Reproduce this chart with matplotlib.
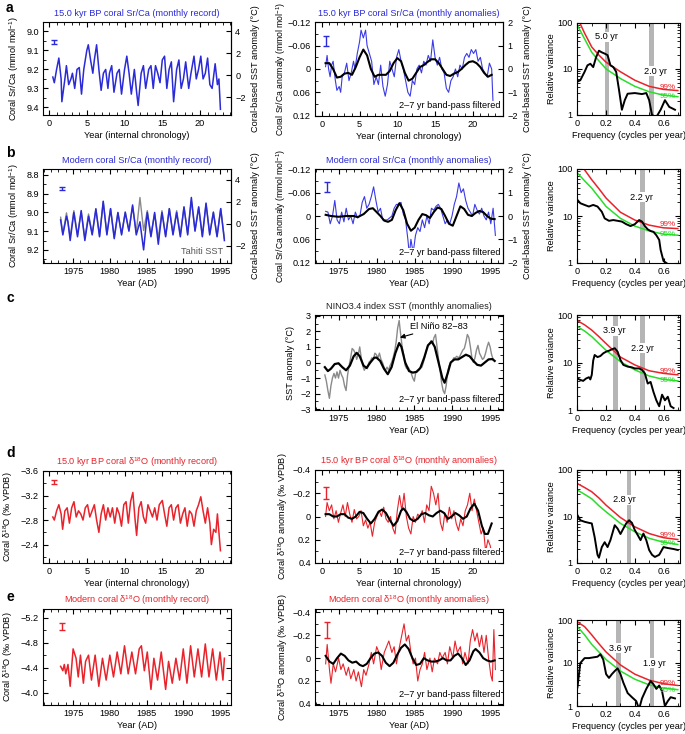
import matplotlib
matplotlib.use("Agg")
import matplotlib.pyplot as plt
from matplotlib.ticker import MultipleLocator, FixedLocator, NullFormatter, FuncFormatter

plt.rcParams['font.family'] = ['Liberation Sans', 'DejaVu Sans']
FS = 6.6
plt.rcParams['font.size'] = FS
plt.rcParams['axes.linewidth'] = 0.8
plt.rcParams['mathtext.default'] = 'regular'

BLUE = '#2a2ad8'
BLUE_L = '#3a3ae6'
RED = '#e8232b'
GREEN = '#2add2a'
GREY = '#8a8a8a'
BAND = '#b5b5b5'

# ---------------- data: panel a ----------------
a_rec_t = [0.5,0.7,1.0,1.3,1.6,1.7,2.1,2.3,2.6,2.9,3.1,3.4,3.7,4.0,4.3,4.6,5.0,5.2,5.5,5.8,6.0,6.3,6.6,6.9,7.2,7.5,7.8,8.0,8.3,8.6,9.0,9.3,9.6,10.0,10.3,10.6,10.9,11.3,11.6,11.8,12.2,12.5,12.8,13.2,13.5,13.8,14.1,14.4,14.7,15.0,15.3,15.6,15.9,16.2,16.5,16.9,17.2,17.5,17.8,18.1,18.5,18.8,19.2,19.5,19.8,20.1,20.4,20.7,21.0,21.3,21.6,22.0,22.3,22.5,22.7]
a_rec_v = [9.24,9.27,9.20,9.14,9.25,9.37,9.25,9.18,9.28,9.25,9.22,9.30,9.20,9.19,9.33,9.20,9.10,9.07,9.15,9.22,9.15,9.07,9.20,9.31,9.22,9.20,9.30,9.22,9.18,9.32,9.22,9.20,9.33,9.20,9.13,9.22,9.33,9.20,9.32,9.39,9.22,9.18,9.30,9.20,9.18,9.30,9.18,9.22,9.27,9.15,9.13,9.30,9.20,9.16,9.37,9.20,9.15,9.30,9.25,9.16,9.30,9.22,9.13,9.25,9.20,9.13,9.25,9.22,9.14,9.28,9.30,9.17,9.28,9.25,9.41]
a_anom_t = [0.5,0.7,0.9,1.1,1.3,1.5,1.8,2.0,2.3,2.5,2.7,3.0,3.3,3.6,3.9,4.2,4.4,4.7,5.0,5.2,5.5,5.8,6.0,6.3,6.6,6.9,7.2,7.5,7.8,8.1,8.4,8.7,9.0,9.3,9.6,9.9,10.2,10.5,10.8,11.1,11.4,11.7,12.0,12.3,12.6,12.9,13.2,13.5,13.8,14.1,14.4,14.7,15.0,15.3,15.6,15.9,16.2,16.5,16.8,17.1,17.4,17.7,18.0,18.3,18.6,18.9,19.2,19.5,19.8,20.1,20.4,20.7,21.0,21.3,21.6,21.9,22.2,22.5,22.7]
a_anom_v = [-0.006,-0.035,0.0,0.02,-0.01,-0.02,0.03,0.055,0.045,0.06,0.02,0.01,-0.015,0.03,0.01,-0.02,0.0,-0.04,-0.07,-0.10,-0.08,-0.10,-0.06,-0.04,-0.02,0.04,0.02,0.04,-0.01,0.045,0.07,0.04,-0.02,0.0,0.02,-0.03,-0.05,-0.02,0.0,0.03,0.06,0.07,0.03,0.04,0.0,-0.01,0.01,-0.02,-0.01,-0.035,-0.02,-0.075,-0.03,-0.01,-0.03,0.0,0.01,0.05,0.06,0.03,0.02,0.0,0.02,-0.01,0.0,-0.03,-0.04,-0.03,-0.05,-0.04,-0.05,-0.02,-0.03,0.0,0.01,0.02,-0.015,0.0,0.097]
a_filt_t = [0.5,1.0,1.5,2.0,2.5,3.0,3.5,4.0,4.5,5.0,5.5,6.0,6.5,7.0,7.5,8.0,8.5,9.0,9.5,10.0,10.5,11.0,11.5,12.0,12.5,13.0,13.5,14.0,14.5,15.0,15.5,16.0,16.5,17.0,17.5,18.0,18.5,19.0,19.5,20.0,20.5,21.0,21.5,22.0,22.5]
a_filt_v = [-0.015,-0.015,0.0,0.022,0.02,0.012,0.01,0.015,-0.005,-0.03,-0.05,-0.035,0.0,0.02,0.015,0.015,0.015,0.005,-0.015,-0.028,-0.02,0.01,0.03,0.025,0.01,-0.005,-0.01,-0.018,-0.025,-0.025,-0.015,0.0,0.015,0.018,0.012,0.008,0.0,-0.01,-0.018,-0.02,-0.015,-0.005,0.01,0.02,0.015]
a_freq = [0.0,0.02,0.05,0.07,0.09,0.11,0.13,0.15,0.17,0.19,0.21,0.23,0.25,0.27,0.29,0.31,0.33,0.35,0.40,0.45,0.48,0.50,0.52,0.55,0.58,0.61,0.64,0.68]
a_spec = [5.3,5.7,8.7,12,13,11,18,25,23,21.6,20,12,11,8.7,3.5,1.3,2.1,2.9,3.0,2.85,3.0,2.1,1.0,0.9,1.3,2.1,1.5,1.3]
sig_freq = [0.0,0.05,0.1,0.15,0.2,0.3,0.4,0.5,0.6,0.7]
a_sig99 = [130,60,30,20,14,8.7,5.7,4.2,3.6,3.4]
a_sig95 = [89,45,23,15,10,6.2,4.2,3.2,2.7,2.5]
a_bands = [0.205, 0.515]
a_band_labels = ['5.0 yr', '2.0 yr']

# ---------------- data: panel b ----------------
b_rec_t = [1973.3,1973.6,1974.1,1974.3,1974.6,1975.1,1975.6,1976.1,1976.6,1977.1,1977.6,1978.1,1978.6,1979.1,1979.6,1980.1,1980.6,1981.1,1981.6,1982.1,1982.6,1983.1,1983.6,1984.1,1984.6,1985.1,1985.6,1986.1,1986.6,1987.1,1987.6,1988.1,1988.6,1989.1,1989.6,1990.1,1990.6,1991.1,1991.6,1992.1,1992.6,1993.1,1993.6,1994.1,1994.6,1995.1,1995.6]
b_rec_v = [9.04,9.12,9.02,9.05,9.15,9.00,9.13,8.99,9.15,9.02,9.12,8.98,9.13,8.94,9.12,8.98,9.14,9.00,9.12,9.00,9.10,8.96,9.12,9.05,9.20,9.00,9.13,9.00,9.17,9.00,9.13,8.98,9.12,9.00,9.13,8.97,9.12,8.92,9.10,8.97,9.13,8.95,9.12,9.00,9.13,8.98,9.15]
b_tahiti_t = [1973.3,1973.6,1974.1,1974.6,1975.1,1975.6,1976.1,1976.6,1977.1,1977.6,1978.1,1978.6,1979.1,1979.6,1980.1,1980.6,1981.1,1981.6,1982.1,1982.6,1983.1,1983.6,1984.1,1984.6,1985.1,1985.6,1986.1,1986.6,1987.1,1987.6,1988.1,1988.6,1989.1,1989.6,1990.1,1990.6,1991.1,1991.6,1992.1,1992.6,1993.1,1993.6,1994.1,1994.6,1995.1,1995.6]
b_tahiti_sst = [0.6,-0.9,1.0,-1.2,1.2,-1.0,1.1,-1.3,0.9,-0.9,1.3,-1.1,2.0,-0.9,1.4,-1.2,1.0,-0.9,1.1,-0.6,1.6,-0.8,2.4,-0.6,1.2,-1.0,0.9,-1.3,1.2,-1.1,1.4,-0.9,1.2,-1.0,1.5,-0.9,2.1,-0.6,1.5,-1.1,1.8,-0.9,1.1,-1.1,1.4,-1.3]
b_anom_t = [1973.3,1973.6,1973.9,1974.2,1974.5,1974.8,1975.1,1975.4,1975.7,1976.0,1976.3,1976.6,1976.9,1977.2,1977.5,1977.8,1978.1,1978.4,1978.7,1979.0,1979.3,1979.6,1979.9,1980.2,1980.5,1980.8,1981.1,1981.4,1981.7,1982.0,1982.3,1982.6,1982.9,1983.2,1983.5,1983.8,1984.1,1984.3,1984.5,1984.8,1985.1,1985.4,1985.7,1986.0,1986.3,1986.6,1986.9,1987.2,1987.5,1987.8,1988.1,1988.4,1988.7,1989.0,1989.3,1989.6,1989.9,1990.2,1990.5,1990.8,1991.1,1991.4,1991.7,1992.0,1992.3,1992.6,1992.9,1993.2,1993.5,1993.8,1994.1,1994.4,1994.7,1995.0,1995.3,1995.6]
b_anom_v = [-0.012,-0.01,0.02,0.0,-0.04,0.01,0.02,-0.01,0.015,-0.02,0.01,0.0,0.02,-0.01,0.005,0.0,-0.035,-0.05,-0.02,-0.03,-0.05,-0.075,-0.04,-0.01,-0.02,0.01,0.01,0.01,0.005,0.0,-0.02,-0.03,-0.03,-0.035,-0.005,0.01,0.06,0.10,0.06,0.095,0.05,0.03,0.04,0.01,0.03,0.0,0.02,-0.02,-0.015,-0.025,-0.03,-0.02,0.0,0.02,0.01,0.02,0.0,-0.03,-0.05,-0.085,-0.06,-0.07,-0.04,-0.02,-0.01,0.0,-0.03,-0.015,-0.005,-0.02,0.0,0.01,-0.01,0.02,-0.02,0.05]
b_filt_t = [1973.3,1974.0,1975.0,1976.0,1977.0,1977.5,1978.3,1979.0,1979.5,1980.0,1980.5,1981.0,1981.5,1982.0,1982.5,1983.0,1983.5,1984.0,1984.5,1985.0,1985.5,1986.0,1986.5,1987.0,1987.5,1988.0,1988.5,1989.0,1989.5,1990.0,1990.5,1991.0,1991.5,1992.0,1992.5,1993.0,1993.5,1994.0,1994.5,1995.0,1995.5]
b_filt_v = [-0.003,0.0,0.002,0.0,0.0,0.003,-0.005,-0.018,-0.02,-0.01,0.0,0.012,0.015,0.01,-0.015,-0.033,-0.015,0.02,0.038,0.03,0.01,-0.005,-0.002,0.005,-0.01,-0.022,-0.018,0.0,0.02,0.025,0.0,-0.025,-0.018,-0.003,0.0,-0.008,-0.013,-0.01,0.0,0.007,0.008]
b_freq = [0.0,0.02,0.05,0.08,0.11,0.14,0.17,0.19,0.22,0.25,0.28,0.31,0.34,0.37,0.40,0.43,0.45,0.47,0.49,0.51,0.53,0.55,0.57,0.58,0.60,0.62]
b_spec = [22,18.7,17.2,15.9,17.2,15.9,12.3,8.9,7.9,8.2,7.9,7.6,6.7,6.1,6.7,8.2,7.6,6.1,5.2,4.8,4.6,3.9,3.1,1.9,1.1,1.0]
b_sig99 = [145,96,59,38,24,12,8.2,6.4,5.6,5.4]
b_sig95 = [82,56,39,25,15.9,8.9,6.1,4.8,4.1,3.9]
b_bands = [0.452]
b_band_labels = ['2.2 yr']

# ---------------- data: panel c ----------------
c_sst_t = [1973.2,1973.4,1973.6,1973.8,1974.0,1974.2,1974.4,1974.6,1974.8,1975.0,1975.2,1975.4,1975.6,1975.8,1976.0,1976.2,1976.4,1976.6,1976.8,1977.0,1977.2,1977.4,1977.6,1977.8,1978.0,1978.2,1978.4,1978.6,1978.8,1979.0,1979.2,1979.4,1979.6,1979.8,1980.0,1980.2,1980.4,1980.6,1980.8,1981.0,1981.2,1981.4,1981.6,1981.8,1982.0,1982.2,1982.4,1982.6,1982.8,1983.0,1983.2,1983.4,1983.6,1983.8,1984.0,1984.2,1984.4,1984.6,1984.8,1985.0,1985.2,1985.4,1985.6,1985.8,1986.0,1986.2,1986.4,1986.6,1986.8,1987.0,1987.2,1987.4,1987.6,1987.8,1988.0,1988.2,1988.4,1988.6,1988.8,1989.0,1989.2,1989.4,1989.6,1989.8,1990.0,1990.2,1990.4,1990.6,1990.8,1991.0,1991.2,1991.4,1991.6,1991.8,1992.0,1992.2,1992.4,1992.6,1992.8,1993.0,1993.2,1993.4,1993.6,1993.8,1994.0,1994.2,1994.4,1994.6,1994.8,1995.0,1995.2,1995.4]
c_sst_v = [-0.8,-1.2,-1.8,-2.3,-1.5,-1.0,-0.7,-1.0,-0.6,-1.0,-0.5,-0.8,-1.0,-1.5,-1.8,-0.8,-0.2,0.3,0.9,0.8,0.6,0.2,0.5,1.0,0.3,-0.2,-0.5,-0.3,-0.4,0.0,0.1,0.3,0.2,0.6,0.5,0.3,0.6,0.2,0.0,-0.3,-0.5,-0.3,-0.5,-0.2,0.0,0.3,0.7,1.3,2.2,2.7,1.8,1.0,0.5,-0.2,-0.4,-0.3,-0.5,-0.7,-1.0,-1.2,-0.6,-0.5,-0.5,-0.3,-0.3,0.0,0.4,0.8,1.1,1.2,1.4,1.2,1.6,1.8,1.0,0.2,-0.5,-1.3,-1.8,-2.0,-1.5,-0.6,-0.2,0.0,0.1,0.3,0.3,0.4,0.3,0.4,0.6,0.8,0.9,1.3,1.8,1.6,1.0,0.3,0.0,0.3,0.8,1.1,0.6,0.4,0.2,0.3,0.6,1.0,1.3,1.0,0.5,0.2]
c_filt_t = [1973.2,1973.6,1974.0,1974.5,1975.0,1975.5,1976.0,1976.5,1977.0,1977.4,1977.8,1978.3,1978.7,1979.2,1979.7,1980.0,1980.5,1981.0,1981.5,1982.0,1982.5,1983.0,1983.3,1983.8,1984.3,1984.8,1985.3,1985.8,1986.3,1986.8,1987.3,1987.7,1988.2,1988.7,1989.0,1989.4,1989.8,1990.3,1990.8,1991.3,1991.8,1992.3,1992.8,1993.3,1993.8,1994.3,1994.8,1995.3,1995.6]
c_filt_v = [-0.3,-0.55,-0.4,-0.1,-0.05,-0.3,-0.5,-0.2,0.4,0.62,0.4,-0.2,-0.35,0.0,0.3,0.32,0.1,-0.4,-0.75,-0.3,0.6,1.25,1.0,0.0,-0.55,-0.65,-0.6,-0.35,0.3,1.1,1.35,1.0,0.0,-1.0,-1.3,-0.7,0.0,0.2,0.2,0.35,0.5,0.4,0.1,-0.15,-0.2,0.0,0.2,0.22,0.1]
c_freq = [0.0,0.02,0.04,0.06,0.08,0.09,0.10,0.11,0.12,0.14,0.16,0.18,0.20,0.22,0.24,0.26,0.28,0.30,0.32,0.35,0.38,0.40,0.43,0.45,0.47,0.49,0.51,0.53,0.55,0.57,0.59,0.61,0.63,0.65,0.67]
c_spec = [4.6,4.3,4.1,4.6,4.9,4.4,5.5,11,14.4,13,13.7,15.6,16.9,17.7,18.9,20,16.9,11.3,8.9,8.2,7.9,7.5,7.5,7.0,5.9,3.6,3.9,2.4,1.6,1.2,2.1,1.6,1.9,1.2,1.1]
c_sig99 = [76,62,48,35,25,13,8.9,6.7,5.9,5.5]
c_sig95 = [57,46,35,25,18,10.4,7.0,5.2,4.4,4.1]
c_bands = [0.265, 0.455]
c_band_labels = ['3.9 yr', '2.2 yr']

# ---------------- data: panel d ----------------
d_rec_t = [0.5,0.7,1.0,1.3,1.6,1.8,2.1,2.4,2.7,3.0,3.3,3.6,3.9,4.2,4.5,4.8,5.1,5.4,5.7,6.0,6.3,6.6,6.9,7.2,7.5,7.8,8.1,8.4,8.7,9.0,9.3,9.6,9.9,10.2,10.5,10.8,11.1,11.4,11.6,11.9,12.2,12.5,12.8,13.1,13.4,13.7,14.0,14.3,14.6,15.0,15.3,15.6,15.9,16.2,16.5,16.8,17.1,17.4,17.7,18.0,18.3,18.6,18.9,19.2,19.5,19.8,20.1,20.4,20.7,21.0,21.3,21.5,21.8,22.1,22.3,22.5,22.7]
d_rec_v = [-2.85,-2.80,-2.95,-3.05,-2.90,-2.65,-2.95,-3.00,-2.75,-3.00,-3.10,-2.85,-2.95,-2.90,-2.80,-3.00,-3.05,-2.85,-2.95,-3.05,-2.80,-2.60,-2.90,-3.05,-2.80,-3.00,-2.85,-3.00,-2.75,-3.00,-2.90,-2.70,-3.05,-3.10,-2.75,-3.10,-3.25,-2.80,-2.55,-3.00,-3.10,-2.85,-2.75,-3.05,-2.95,-2.85,-3.00,-2.80,-3.05,-3.12,-2.90,-2.70,-3.00,-3.05,-2.80,-3.00,-3.05,-2.75,-2.90,-3.00,-2.70,-2.95,-2.90,-2.70,-2.95,-3.05,-3.18,-2.95,-2.75,-3.00,-2.75,-2.40,-2.65,-2.60,-2.90,-2.60,-2.30]
d_anom_t = [0.5,0.7,1.0,1.3,1.6,1.9,2.2,2.5,2.8,3.1,3.4,3.7,4.0,4.3,4.6,4.9,5.2,5.5,5.8,6.1,6.4,6.7,7.0,7.3,7.6,7.9,8.2,8.5,8.8,9.1,9.4,9.7,10.0,10.3,10.6,10.9,11.2,11.5,11.8,12.1,12.4,12.7,13.0,13.3,13.6,13.9,14.2,14.5,14.8,15.1,15.4,15.7,16.0,16.3,16.6,16.9,17.2,17.5,17.8,18.1,18.4,18.7,19.0,19.3,19.6,19.9,20.2,20.5,20.8,21.1,21.4,21.7,22.0,22.3,22.6]
d_anom_v = [0.0,-0.12,-0.05,-0.10,0.02,-0.05,0.05,-0.03,-0.10,0.0,-0.12,-0.02,0.05,-0.06,0.02,0.0,-0.05,0.08,0.03,0.10,0.05,0.17,0.05,0.0,-0.05,0.0,-0.08,0.02,0.05,0.0,0.10,0.15,-0.05,-0.18,-0.05,-0.20,0.0,0.10,0.15,0.0,0.05,-0.02,0.0,-0.05,0.05,-0.10,-0.05,-0.26,-0.20,-0.10,-0.20,0.05,0.12,-0.03,0.05,-0.08,0.02,-0.05,0.06,0.12,0.02,0.08,-0.05,-0.10,-0.20,-0.05,-0.15,-0.05,0.05,0.15,0.10,0.30,0.20,0.25,0.35]
d_filt_t = [0.5,1.0,1.5,2.0,2.5,3.0,3.5,4.0,4.5,5.0,5.5,6.0,6.5,7.0,7.5,8.0,8.5,9.0,9.5,10.0,10.5,10.8,11.2,11.7,12.2,12.7,13.2,13.7,14.2,14.7,15.2,15.7,16.2,16.7,17.2,17.7,18.2,18.7,19.2,19.7,20.2,20.7,21.2,21.6,22.0,22.5]
d_filt_v = [-0.02,-0.02,0.0,0.0,-0.02,-0.02,0.01,0.02,0.0,-0.04,-0.03,0.02,0.06,0.02,-0.04,-0.06,-0.03,0.03,0.08,0.04,-0.05,-0.07,-0.04,0.02,0.04,0.02,-0.02,-0.03,-0.01,0.0,-0.03,-0.05,-0.03,0.02,0.0,-0.03,-0.01,0.02,0.0,-0.07,-0.11,-0.05,0.08,0.15,0.15,0.06]
d_freq = [0.0,0.02,0.05,0.08,0.10,0.12,0.14,0.15,0.17,0.19,0.21,0.23,0.26,0.28,0.30,0.32,0.34,0.36,0.38,0.40,0.42,0.44,0.46,0.48,0.50,0.52,0.54,0.57,0.60,0.63,0.67,0.70]
d_spec = [10.7,8.3,7.7,7.3,7.1,3.6,1.5,1.3,2.2,2.8,2.2,3.1,6.5,5.5,4.2,5.5,7.1,8.3,7.3,5.1,4.0,3.1,4.3,3.1,1.9,1.5,1.35,1.5,2.2,2.1,2.0,1.9]
d_sig99 = [51,42,34,25,17.5,9.5,6.0,4.3,3.5,3.2]
d_sig95 = [37,30,24,17,12.6,7.1,4.7,3.4,2.8,2.5]
d_bands = [0.36]
d_band_labels = ['2.8 yr']

# ---------------- data: panel e ----------------
e_rec_t = [1973.3,1973.6,1973.8,1974.0,1974.3,1974.6,1975.0,1975.4,1975.7,1976.0,1976.4,1976.7,1977.1,1977.5,1978.0,1978.5,1979.0,1979.5,1980.0,1980.5,1981.0,1981.5,1982.0,1982.5,1983.0,1983.5,1984.0,1984.3,1984.7,1985.1,1985.6,1986.0,1986.5,1987.0,1987.6,1988.0,1988.5,1989.0,1989.5,1990.0,1990.5,1991.0,1991.5,1992.0,1992.5,1993.0,1993.5,1994.0,1994.5,1995.0,1995.4,1995.6]
e_rec_v = [-4.42,-4.35,-4.45,-4.30,-4.45,-4.10,-4.70,-4.55,-4.25,-4.60,-4.15,-4.50,-4.60,-4.20,-4.60,-4.10,-4.55,-4.20,-4.60,-4.25,-4.65,-4.30,-4.75,-4.30,-4.65,-4.30,-4.70,-4.75,-4.35,-4.65,-4.05,-4.55,-4.20,-4.65,-4.05,-4.50,-4.15,-4.55,-4.20,-4.70,-4.15,-4.75,-4.25,-4.70,-4.25,-4.78,-4.25,-4.70,-4.20,-4.65,-4.20,-4.55]
e_anom_t = [1973.3,1973.5,1973.8,1974.0,1974.3,1974.6,1975.0,1975.3,1975.6,1976.0,1976.3,1976.6,1977.0,1977.3,1977.6,1978.0,1978.3,1978.6,1979.0,1979.3,1979.6,1980.0,1980.3,1980.6,1981.0,1981.3,1981.6,1982.0,1982.3,1982.6,1983.0,1983.3,1983.6,1983.9,1984.2,1984.5,1984.8,1985.1,1985.4,1985.7,1986.0,1986.3,1986.6,1987.0,1987.3,1987.6,1988.0,1988.3,1988.6,1989.0,1989.3,1989.6,1990.0,1990.3,1990.6,1991.0,1991.3,1991.6,1992.0,1992.3,1992.6,1992.9,1993.2,1993.5,1993.8,1994.1,1994.4,1994.7,1995.0,1995.2,1995.4,1995.6]
e_anom_v = [0.05,-0.12,0.10,0.22,0.05,0.12,0.0,0.10,0.05,0.15,0.08,0.18,0.10,0.20,0.12,0.25,0.10,0.15,0.05,-0.05,0.05,-0.10,-0.05,0.10,-0.05,-0.10,-0.15,-0.05,-0.10,0.05,-0.10,-0.20,-0.30,-0.15,-0.20,-0.05,0.05,0.0,0.20,0.10,0.05,-0.05,0.10,0.0,0.12,0.0,0.05,-0.05,0.0,-0.05,0.05,-0.10,0.0,-0.15,-0.05,-0.10,0.05,-0.05,0.05,-0.15,-0.25,-0.15,-0.22,-0.10,-0.20,-0.05,-0.20,0.0,0.15,0.20,-0.25,0.10]
e_filt_t = [1973.3,1973.8,1974.3,1974.8,1975.3,1975.8,1976.3,1976.8,1977.3,1977.8,1978.2,1978.7,1979.2,1979.7,1980.2,1980.7,1981.2,1981.7,1982.2,1982.7,1983.2,1983.7,1984.2,1984.7,1985.2,1985.7,1986.2,1986.7,1987.2,1987.7,1988.2,1988.7,1989.2,1989.7,1990.2,1990.7,1991.2,1991.7,1992.2,1992.7,1993.0,1993.5,1994.0,1994.5,1995.0,1995.5]
e_filt_v = [-0.02,0.03,0.05,0.0,-0.04,-0.02,0.02,0.04,0.03,0.06,0.07,0.05,0.0,-0.04,-0.05,-0.02,0.04,0.07,0.04,-0.03,-0.09,-0.12,-0.08,0.0,0.06,0.05,0.0,0.02,0.03,0.03,0.02,0.0,0.02,0.02,-0.02,-0.04,0.0,0.06,0.02,-0.06,-0.08,-0.05,0.0,0.02,0.03,0.02]
e_freq = [0.0,0.02,0.05,0.08,0.11,0.14,0.16,0.18,0.20,0.22,0.24,0.26,0.28,0.30,0.32,0.35,0.38,0.41,0.43,0.45,0.48,0.51,0.53,0.55,0.57,0.59,0.61,0.63,0.65,0.68]
e_spec = [2.7,10,13,13,13.5,14,16,12,5.5,4.5,5.5,6.5,7.5,5.5,3.5,2.0,1.6,1.3,0.85,1.5,2.5,3.8,3.2,2.5,3.0,2.2,1.0,1.3,1.6,1.5]
e_sig99 = [90,70,45,28,18,9.0,5.5,4.0,3.3,3.0]
e_sig95 = [70,45,27,18,12,6.5,4.2,3.1,2.6,2.4]
e_bands = [0.285, 0.52]
e_band_labels = ['3.6 yr', '1.9 yr']

# ---------------- layout ----------------
W, H = 685, 734
fig = plt.figure(figsize=(W / 100, H / 100), dpi=100)


def add_ax(x0, y0, x1, y1):
    return fig.add_axes([x0 / W, 1 - y1 / H, (x1 - x0) / W, (y1 - y0) / H])


def style(ax, xmajor, xminor, ymajor=None, yminor=None):
    ax.tick_params(direction='in', which='both', top=True, right=True, labelsize=FS, pad=3)
    ax.tick_params(which='major', length=3.5)
    ax.tick_params(which='minor', length=2)
    ax.xaxis.set_major_locator(MultipleLocator(xmajor))
    ax.xaxis.set_minor_locator(MultipleLocator(xminor))
    if ymajor is not None:
        ax.yaxis.set_major_locator(MultipleLocator(ymajor))
    if yminor is not None:
        ax.yaxis.set_minor_locator(MultipleLocator(yminor))


def fmt_num(v, pos=None):
    if abs(v) < 1e-9:
        return '0'
    return ('%g' % v).replace('-', '\u2212')


numfmt = FuncFormatter(fmt_num)
onedec = FuncFormatter(lambda v, p: ('%.1f' % v).replace('-', '\u2212'))


def sec_axis(ax, fwd, inv, ticks, label):
    ax.tick_params(right=False, which='both')
    sec = ax.secondary_yaxis('right', functions=(fwd, inv))
    sec.set_yticks(ticks)
    sec.yaxis.set_major_formatter(numfmt)
    sec.tick_params(direction='in', length=3.5, labelsize=FS, pad=3)
    sec.set_ylabel(label, fontsize=FS, labelpad=4)
    return sec


def filt_label(ax):
    ax.text(0.985, 0.06, '2\u20137 yr band-pass filtered', transform=ax.transAxes,
            ha='right', va='bottom', fontsize=FS,
            bbox=dict(facecolor='white', edgecolor='none', pad=0.5), zorder=5)


def spectrum(ax, freq, spec, s99, s95, bands, labels, label_pos, p99, p95):
    for c in bands:
        ax.axvspan(c - 0.016, c + 0.016, color=BAND, lw=0, zorder=0)
    ax.plot(sig_freq, s99, color=RED, lw=1.1, zorder=2)
    ax.plot(sig_freq, s95, color=GREEN, lw=1.1, zorder=2)
    ax.plot(freq, spec, color='black', lw=1.4, zorder=3)
    for lab, (fx, fy) in zip(labels, label_pos):
        ax.text(fx, fy, lab, ha='center', va='center', fontsize=FS,
                bbox=dict(facecolor='white', edgecolor='none', pad=0.3), zorder=4)
    ax.text(0.57, p99, '99%', color=RED, fontsize=5.8, ha='left', va='center', zorder=4)
    ax.text(0.57, p95, '95%', color=GREEN, fontsize=5.8, ha='left', va='center', zorder=4)
    ax.set_yscale('log')
    ax.set_ylim(1, 100)
    ax.set_xlim(-0.003, 0.715)
    ax.tick_params(direction='in', which='both', top=True, right=True, labelsize=FS, pad=3)
    ax.tick_params(which='major', length=3.5)
    ax.tick_params(which='minor', length=2)
    ax.xaxis.set_major_locator(FixedLocator([0, 0.2, 0.4, 0.6]))
    ax.xaxis.set_minor_locator(MultipleLocator(0.1))
    ax.xaxis.set_major_formatter(numfmt)
    ax.set_yticks([1, 10, 100])
    ax.set_yticklabels(['1', '10', '100'])
    ax.yaxis.set_minor_formatter(NullFormatter())
    ax.set_ylabel('Relative variance', fontsize=FS, labelpad=1)
    ax.set_xlabel('Frequency (cycles per year)', fontsize=FS, labelpad=2)


def ebar(ax, x, y, e, color):
    ax.errorbar([x], [y], yerr=[e], fmt='none', ecolor=color, elinewidth=1.0, capsize=2, capthick=1.0)


def title(ax, text, color):
    ax.set_title(text, color=color, fontsize=FS, pad=4)


# ===== Row a =====
ax = add_ax(43, 22, 231, 115)
ax.plot(a_rec_t, a_rec_v, color=BLUE, lw=1.1)
ax.set_xlim(-0.8, 24.1)
ax.set_ylim(9.44, 8.95)
style(ax, 5, 1, 0.1, 0.05)
ax.yaxis.set_major_formatter(onedec)
ax.set_xlabel('Year (internal chronology)', labelpad=2)
ax.set_ylabel('Coral Sr/Ca (mmol mol$^{-1}$)', labelpad=4)
title(ax, '15.0 kyr BP coral Sr/Ca (monthly record)', BLUE)
ebar(ax, 0.6, 9.055, 0.012, BLUE)
sec_axis(ax, lambda x: (9.23 - x) / 0.058, lambda s: 9.23 - 0.058 * s, [4, 2, 0, -2],
         'Coral-based SST anomaly (\u00b0C)')

ax = add_ax(315, 22, 503, 116)
ax.plot(a_anom_t, a_anom_v, color=BLUE_L, lw=0.8)
ax.plot(a_filt_t, a_filt_v, color='black', lw=1.5)
ax.set_xlim(-0.9, 24.0)
ax.set_ylim(0.121, -0.121)
style(ax, 5, 1, 0.06, 0.03)
ax.yaxis.set_major_formatter(numfmt)
ax.set_xlabel('Year (internal chronology)', labelpad=2)
ax.set_ylabel('Coral Sr/Ca anomaly (mmol mol$^{-1}$)', labelpad=0, fontsize=6.2)
title(ax, '15.0 kyr BP coral Sr/Ca (monthly anomalies)', BLUE)
ebar(ax, 0.5, -0.072, 0.012, BLUE)
filt_label(ax)
sec_axis(ax, lambda x: -x / 0.06, lambda s: -0.06 * s, [2, 1, 0, -1, -2],
         'Coral-based SST anomaly (\u00b0C)')

ax = add_ax(577, 23, 680, 115)
spectrum(ax, a_freq, a_spec, a_sig99, a_sig95, a_bands, a_band_labels,
         [(0.2, 50), (0.545, 9)], 3.9, 2.5)

# ===== Row b =====
ax = add_ax(43, 169, 231, 263)
b_tahiti_srca = [9.061 - 0.0587 * s for s in b_tahiti_sst]
ax.plot(b_tahiti_t, b_tahiti_srca, color=GREY, lw=1.0)
ax.plot(b_rec_t, b_rec_v, color=BLUE, lw=1.1)
ax.set_xlim(1970.9, 1996.5)
ax.set_ylim(9.27, 8.768)
style(ax, 5, 1, 0.1, 0.05)
ax.yaxis.set_major_formatter(onedec)
ax.set_xlabel('Year (AD)', labelpad=2)
ax.set_ylabel('Coral Sr/Ca (mmol mol$^{-1}$)', labelpad=4)
title(ax, 'Modern coral Sr/Ca (monthly record)', BLUE)
ebar(ax, 1973.5, 8.87, 0.008, BLUE)
ax.text(0.96, 0.07, 'Tahiti SST', transform=ax.transAxes, ha='right', va='bottom',
        color='#555555', fontsize=FS)
sec_axis(ax, lambda x: (9.061 - x) / 0.0587, lambda s: 9.061 - 0.0587 * s, [4, 2, 0, -2],
         'Coral-based SST anomaly (\u00b0C)')

ax = add_ax(315, 169, 503, 263)
ax.plot(b_anom_t, b_anom_v, color=BLUE_L, lw=0.8)
ax.plot(b_filt_t, b_filt_v, color='black', lw=1.5)
ax.set_xlim(1971.9, 1996.6)
ax.set_ylim(0.121, -0.121)
style(ax, 5, 1, 0.06, 0.03)
ax.yaxis.set_major_formatter(numfmt)
ax.set_xlabel('Year (AD)', labelpad=2)
ax.set_ylabel('Coral Sr/Ca anomaly (mmol mol$^{-1}$)', labelpad=0, fontsize=6.2)
title(ax, 'Modern coral Sr/Ca (monthly anomalies)', BLUE)
ebar(ax, 1973.5, -0.075, 0.012, BLUE)
filt_label(ax)
sec_axis(ax, lambda x: -x / 0.06, lambda s: -0.06 * s, [2, 1, 0, -1, -2],
         'Coral-based SST anomaly (\u00b0C)')

ax = add_ax(577, 169, 680, 263)
spectrum(ax, b_freq, b_spec, b_sig99, b_sig95, b_bands, b_band_labels,
         [(0.45, 25)], 6.6, 4.1)

# ===== Row c =====
ax = add_ax(315, 315, 503, 410)
ax.plot(c_sst_t, c_sst_v, color=GREY, lw=1.0)
ax.plot(c_filt_t, c_filt_v, color='black', lw=1.6)
ax.set_xlim(1971.9, 1996.7)
ax.set_ylim(-3.05, 3.05)
style(ax, 5, 1, 1, 0.5)
ax.yaxis.set_major_formatter(numfmt)
ax.set_xlabel('Year (AD)', labelpad=2)
ax.set_ylabel('SST anomaly (\u00b0C)', labelpad=4)
title(ax, 'NINO3.4 index SST (monthly anomalies)', '#222222')
ax.annotate('El Ni\u00f1o 82\u221283', xy=(1983.1, 1.6), xytext=(1984.4, 2.3),
            fontsize=FS, ha='left', va='center',
            arrowprops=dict(arrowstyle='-|>', color='black', lw=0.8, mutation_scale=7,
                            shrinkA=0, shrinkB=0))
filt_label(ax)

ax = add_ax(577, 315, 680, 410)
spectrum(ax, c_freq, c_spec, c_sig99, c_sig95, c_bands, c_band_labels,
         [(0.26, 47), (0.455, 20)], 6.6, 4.2)

# ===== Row d =====
ax = add_ax(43, 471, 231, 563)
ax.plot(d_rec_t, d_rec_v, color=RED, lw=1.1)
ax.set_xlim(-0.8, 24.1)
ax.set_ylim(-2.1, -3.6)
style(ax, 5, 1, 0.4, 0.2)
ax.yaxis.set_major_formatter(onedec)
ax.set_xlabel('Year (internal chronology)', labelpad=2)
ax.set_ylabel('Coral \u03b4$^{18}$O (\u2030 VPDB)', labelpad=4)
title(ax, '15.0 kyr BP coral \u03b4$^{18}$O (monthly record)', RED)
ebar(ax, 0.6, -3.42, 0.04, RED)

ax = add_ax(315, 470, 503, 563)
ax.plot(d_anom_t, d_anom_v, color=RED, lw=0.8)
ax.plot(d_filt_t, d_filt_v, color='black', lw=1.5)
ax.set_xlim(-0.9, 24.0)
ax.set_ylim(0.4, -0.4)
style(ax, 5, 1, 0.2, 0.1)
ax.yaxis.set_major_formatter(numfmt)
ax.set_xlabel('Year (internal chronology)', labelpad=2)
ax.set_ylabel('Coral \u03b4$^{18}$O anomaly (\u2030 VPDB)', labelpad=2)
title(ax, '15.0 kyr BP coral \u03b4$^{18}$O (monthly anomalies)', RED)
ebar(ax, 0.5, -0.2, 0.05, RED)
filt_label(ax)

ax = add_ax(577, 470, 680, 563)
spectrum(ax, d_freq, d_spec, d_sig99, d_sig95, d_bands, d_band_labels,
         [(0.33, 23)], 3.9, 2.6)

# ===== Row e =====
ax = add_ax(43, 609, 231, 705)
ax.plot(e_rec_t, e_rec_v, color=RED, lw=1.1)
ax.set_xlim(1970.9, 1996.5)
ax.set_ylim(-3.8, -5.34)
style(ax, 5, 1, 0.4, 0.2)
ax.yaxis.set_major_formatter(onedec)
ax.set_xlabel('Year (AD)', labelpad=2)
ax.set_ylabel('Coral \u03b4$^{18}$O (\u2030 VPDB)', labelpad=4)
title(ax, 'Modern coral \u03b4$^{18}$O (monthly record)', RED)
ebar(ax, 1973.5, -5.06, 0.05, RED)

ax = add_ax(315, 609, 503, 705)
ax.plot(e_anom_t, e_anom_v, color=RED, lw=0.8)
ax.plot(e_filt_t, e_filt_v, color='black', lw=1.5)
ax.set_xlim(1971.9, 1996.6)
ax.set_ylim(0.41, -0.43)
style(ax, 5, 1, 0.2, 0.1)
ax.yaxis.set_major_formatter(numfmt)
ax.set_xlabel('Year (AD)', labelpad=2)
ax.set_ylabel('Coral \u03b4$^{18}$O anomaly (\u2030 VPDB)', labelpad=2)
title(ax, 'Modern coral \u03b4$^{18}$O (monthly anomalies)', RED)
ebar(ax, 1973.5, -0.25, 0.07, RED)
filt_label(ax)

ax = add_ax(577, 620, 680, 706)
spectrum(ax, e_freq, e_spec, e_sig99, e_sig95, e_bands, e_band_labels,
         [(0.3, 22), (0.535, 10)], 3.4, 2.3)

# panel letters
for lab, y in zip('abcde', [8, 153, 298, 453, 597]):
    fig.text(6 / W, 1 - y / H, lab, fontsize=10, fontweight='bold', va='center', ha='left')

fig.savefig('out.png', dpi=100)
